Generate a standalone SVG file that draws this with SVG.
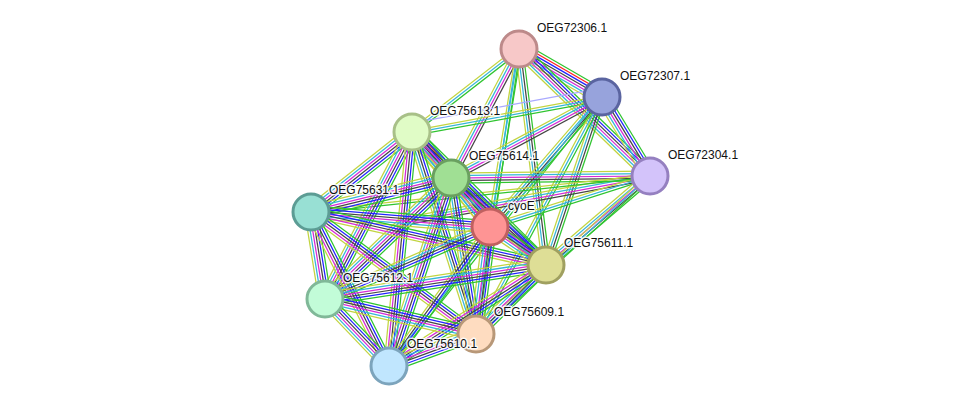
<svg xmlns="http://www.w3.org/2000/svg" width="975" height="411" viewBox="0 0 975 411">
<style>
.e path{fill:none;stroke-width:1}
.n{stroke:#2fc42f}.f{stroke:#ff1f1f}.c{stroke:#2222ff}.x{stroke:#454545}.m{stroke:#d62ad6}.d{stroke:#35b6d8}.t{stroke:#c2d440}.h{stroke:#a9a9ff}
.node circle{stroke-width:3}
.node text{font-family:"Liberation Sans",Arial,sans-serif;font-size:12px;fill:#111;stroke:#fff;stroke-width:3;stroke-opacity:0.85;paint-order:stroke;stroke-linejoin:round}
</style>
<rect width="975" height="411" fill="#fff"/>
<g id="edges" class="e">
<g transform="translate(519 49) rotate(30.04) scale(1 1.25)"><path class="n" d="M0-6H95.9"/><path class="f" d="M0-4H95.9"/><path class="c" d="M0-2H95.9"/><path class="x" d="M0 0H95.9"/><path class="m" d="M0 2H95.9"/><path class="d" d="M0 4H95.9"/><path class="t" d="M0 6H95.9"/></g>
<g transform="translate(519 49) rotate(44.11) scale(1 1.25)"><path class="n" d="M0-5H182.5"/><path class="c" d="M0-3H182.5"/><path class="x" d="M0-1H182.5"/><path class="m" d="M0 1H182.5"/><path class="d" d="M0 3H182.5"/><path class="t" d="M0 5H182.5"/></g>
<g transform="translate(602 97) rotate(58.72) scale(1 1.25)"><path class="n" d="M0-5H92.4"/><path class="c" d="M0-3H92.4"/><path class="x" d="M0-1H92.4"/><path class="m" d="M0 1H92.4"/><path class="d" d="M0 3H92.4"/><path class="t" d="M0 5H92.4"/></g>
<g transform="translate(519 49) rotate(142.19) scale(1 1.25)"><path class="n" d="M0-2H135.4"/><path class="d" d="M0 0H135.4"/><path class="t" d="M0 2H135.4"/></g>
<g transform="translate(519 49) rotate(117.79) scale(1 1.25)"><path class="x" d="M0-3H145.8"/><path class="m" d="M0-1H145.8"/><path class="d" d="M0 1H145.8"/><path class="t" d="M0 3H145.8"/></g>
<g transform="translate(519 49) rotate(99.25) scale(1 1.25)"><path class="n" d="M0-2H180.4"/><path class="d" d="M0 0H180.4"/><path class="t" d="M0 2H180.4"/></g>
<g transform="translate(519 49) rotate(82.87) scale(1 1.25)"><path class="n" d="M0-3H217.7"/><path class="x" d="M0-1H217.7"/><path class="d" d="M0 1H217.7"/><path class="t" d="M0 3H217.7"/></g>
<g transform="translate(519 49) rotate(98.58) scale(1 1.25)"><path class="n" d="M0-1H288.2"/><path class="d" d="M0 1H288.2"/></g>
<g transform="translate(602 97) rotate(169.56) scale(1 1.25)"><path class="n" d="M0-3H193.2"/><path class="d" d="M0-1H193.2"/><path class="t" d="M0 1H193.2"/><path class="h" d="M0 7H193.2"/></g>
<g transform="translate(602 97) rotate(151.79) scale(1 1.25)"><path class="x" d="M0-3H171.4"/><path class="m" d="M0-1H171.4"/><path class="d" d="M0 1H171.4"/><path class="t" d="M0 3H171.4"/></g>
<g transform="translate(602 97) rotate(130.74) scale(1 1.25)"><path class="n" d="M0-3H171.6"/><path class="x" d="M0-1H171.6"/><path class="d" d="M0 1H171.6"/><path class="t" d="M0 3H171.6"/></g>
<g transform="translate(602 97) rotate(108.43) scale(1 1.25)"><path class="n" d="M0-3H177.1"/><path class="x" d="M0-1H177.1"/><path class="d" d="M0 1H177.1"/><path class="t" d="M0 3H177.1"/></g>
<g transform="translate(602 97) rotate(118) scale(1 1.25)"><path class="n" d="M0-2H268.4"/><path class="d" d="M0 0H268.4"/><path class="t" d="M0 2H268.4"/></g>
<g transform="translate(602 97) rotate(128.37) scale(1 1.25)"><path class="n" d="M0-1H343.1"/><path class="d" d="M0 1H343.1"/></g>
<g transform="translate(650 176) rotate(169.53) scale(1 1.25)"><path class="x" d="M0-3H242"/><path class="m" d="M0-1H242"/><path class="d" d="M0 1H242"/><path class="t" d="M0 3H242"/></g>
<g transform="translate(650 176) rotate(179.42) scale(1 1.25)"><path class="n" d="M0-4H199"/><path class="x" d="M0-2H199"/><path class="m" d="M0 0H199"/><path class="d" d="M0 2H199"/><path class="t" d="M0 4H199"/></g>
<g transform="translate(650 176) rotate(162.32) scale(1 1.25)"><path class="n" d="M0-2H167.9"/><path class="d" d="M0 0H167.9"/><path class="t" d="M0 2H167.9"/></g>
<g transform="translate(650 176) rotate(139.45) scale(1 1.25)"><path class="n" d="M0-4H136.9"/><path class="x" d="M0-2H136.9"/><path class="m" d="M0 0H136.9"/><path class="d" d="M0 2H136.9"/><path class="t" d="M0 4H136.9"/></g>
<g transform="translate(650 176) rotate(137.76) scale(1 1.25)"><path class="n" d="M0-2H235"/><path class="d" d="M0 0H235"/><path class="t" d="M0 2H235"/></g>
<g transform="translate(650 176) rotate(173.94) scale(1 1.25)"><path class="n" d="M0-1H340.9"/><path class="t" d="M0 1H340.9"/></g>
<g transform="translate(412 132) rotate(49.7) scale(1 1.25)"><path class="n" d="M0-6H60.3"/><path class="f" d="M0-4H60.3"/><path class="c" d="M0-2H60.3"/><path class="x" d="M0 0H60.3"/><path class="m" d="M0 2H60.3"/><path class="d" d="M0 4H60.3"/><path class="t" d="M0 6H60.3"/></g>
<g transform="translate(412 132) rotate(141.62) scale(1 1.25)"><path class="n" d="M0-5H128.8"/><path class="c" d="M0-3H128.8"/><path class="x" d="M0-1H128.8"/><path class="m" d="M0 1H128.8"/><path class="d" d="M0 3H128.8"/><path class="t" d="M0 5H128.8"/></g>
<g transform="translate(412 132) rotate(50.61) scale(1 1.25)"><path class="n" d="M0-5H122.9"/><path class="c" d="M0-3H122.9"/><path class="x" d="M0-1H122.9"/><path class="m" d="M0 1H122.9"/><path class="d" d="M0 3H122.9"/><path class="t" d="M0 5H122.9"/></g>
<g transform="translate(412 132) rotate(44.79) scale(1 1.25)"><path class="n" d="M0-5H188.8"/><path class="c" d="M0-3H188.8"/><path class="x" d="M0-1H188.8"/><path class="m" d="M0 1H188.8"/><path class="d" d="M0 3H188.8"/><path class="t" d="M0 5H188.8"/></g>
<g transform="translate(412 132) rotate(117.52) scale(1 1.25)"><path class="n" d="M0-5H188.3"/><path class="c" d="M0-3H188.3"/><path class="x" d="M0-1H188.3"/><path class="m" d="M0 1H188.3"/><path class="d" d="M0 3H188.3"/><path class="t" d="M0 5H188.3"/></g>
<g transform="translate(412 132) rotate(72.42) scale(1 1.25)"><path class="n" d="M0-4H211.9"/><path class="c" d="M0-2H211.9"/><path class="x" d="M0 0H211.9"/><path class="d" d="M0 2H211.9"/><path class="t" d="M0 4H211.9"/></g>
<g transform="translate(412 132) rotate(95.61) scale(1 1.25)"><path class="n" d="M0-4H235.1"/><path class="c" d="M0-2H235.1"/><path class="x" d="M0 0H235.1"/><path class="m" d="M0 2H235.1"/><path class="t" d="M0 4H235.1"/></g>
<g transform="translate(451 178) rotate(166.35) scale(1 1.25)"><path class="n" d="M0-5H144.1"/><path class="c" d="M0-3H144.1"/><path class="x" d="M0-1H144.1"/><path class="m" d="M0 1H144.1"/><path class="d" d="M0 3H144.1"/><path class="t" d="M0 5H144.1"/></g>
<g transform="translate(451 178) rotate(51.48) scale(1 1.25)"><path class="n" d="M0-5H62.6"/><path class="c" d="M0-3H62.6"/><path class="x" d="M0-1H62.6"/><path class="m" d="M0 1H62.6"/><path class="d" d="M0 3H62.6"/><path class="t" d="M0 5H62.6"/></g>
<g transform="translate(451 178) rotate(42.48) scale(1 1.25)"><path class="n" d="M0-5H128.8"/><path class="c" d="M0-3H128.8"/><path class="x" d="M0-1H128.8"/><path class="m" d="M0 1H128.8"/><path class="d" d="M0 3H128.8"/><path class="t" d="M0 5H128.8"/></g>
<g transform="translate(451 178) rotate(136.16) scale(1 1.25)"><path class="n" d="M0-5H174.7"/><path class="c" d="M0-3H174.7"/><path class="x" d="M0-1H174.7"/><path class="m" d="M0 1H174.7"/><path class="d" d="M0 3H174.7"/><path class="t" d="M0 5H174.7"/></g>
<g transform="translate(451 178) rotate(80.9) scale(1 1.25)"><path class="n" d="M0-4H158"/><path class="c" d="M0-2H158"/><path class="x" d="M0 0H158"/><path class="d" d="M0 2H158"/><path class="t" d="M0 4H158"/></g>
<g transform="translate(451 178) rotate(108.25) scale(1 1.25)"><path class="n" d="M0-5H198"/><path class="c" d="M0-3H198"/><path class="x" d="M0-1H198"/><path class="m" d="M0 1H198"/><path class="d" d="M0 3H198"/><path class="t" d="M0 5H198"/></g>
<g transform="translate(311 212) rotate(4.79) scale(1 1.25)"><path class="n" d="M0-5H179.6"/><path class="c" d="M0-3H179.6"/><path class="x" d="M0-1H179.6"/><path class="m" d="M0 1H179.6"/><path class="d" d="M0 3H179.6"/><path class="t" d="M0 5H179.6"/></g>
<g transform="translate(311 212) rotate(12.71) scale(1 1.25)"><path class="n" d="M0-4H240.9"/><path class="c" d="M0-2H240.9"/><path class="x" d="M0 0H240.9"/><path class="m" d="M0 2H240.9"/><path class="t" d="M0 4H240.9"/></g>
<g transform="translate(311 212) rotate(80.86) scale(1 1.25)"><path class="n" d="M0-5H88.1"/><path class="c" d="M0-3H88.1"/><path class="x" d="M0-1H88.1"/><path class="m" d="M0 1H88.1"/><path class="d" d="M0 3H88.1"/><path class="t" d="M0 5H88.1"/></g>
<g transform="translate(311 212) rotate(36.48) scale(1 1.25)"><path class="n" d="M0-4H205.2"/><path class="c" d="M0-2H205.2"/><path class="x" d="M0 0H205.2"/><path class="m" d="M0 2H205.2"/><path class="t" d="M0 4H205.2"/></g>
<g transform="translate(311 212) rotate(63.14) scale(1 1.25)"><path class="n" d="M0-4H172.6"/><path class="c" d="M0-2H172.6"/><path class="x" d="M0 0H172.6"/><path class="m" d="M0 2H172.6"/><path class="t" d="M0 4H172.6"/></g>
<g transform="translate(490 227) rotate(34.16) scale(1 1.25)"><path class="n" d="M0-5H67.7"/><path class="c" d="M0-3H67.7"/><path class="x" d="M0-1H67.7"/><path class="m" d="M0 1H67.7"/><path class="d" d="M0 3H67.7"/><path class="t" d="M0 5H67.7"/></g>
<g transform="translate(490 227) rotate(156.43) scale(1 1.25)"><path class="n" d="M0-4H180"/><path class="c" d="M0-2H180"/><path class="x" d="M0 0H180"/><path class="d" d="M0 2H180"/><path class="t" d="M0 4H180"/></g>
<g transform="translate(490 227) rotate(97.45) scale(1 1.25)"><path class="n" d="M0-5H107.9"/><path class="c" d="M0-3H107.9"/><path class="x" d="M0-1H107.9"/><path class="m" d="M0 1H107.9"/><path class="d" d="M0 3H107.9"/><path class="t" d="M0 5H107.9"/></g>
<g transform="translate(490 227) rotate(126.01) scale(1 1.25)"><path class="n" d="M0-3H171.8"/><path class="c" d="M0-1H171.8"/><path class="x" d="M0 1H171.8"/><path class="t" d="M0 3H171.8"/></g>
<g transform="translate(546 265) rotate(171.25) scale(1 1.25)"><path class="n" d="M0-5H223.6"/><path class="c" d="M0-3H223.6"/><path class="x" d="M0-1H223.6"/><path class="m" d="M0 1H223.6"/><path class="d" d="M0 3H223.6"/><path class="t" d="M0 5H223.6"/></g>
<g transform="translate(546 265) rotate(135.41) scale(1 1.25)"><path class="n" d="M0-5H98.3"/><path class="c" d="M0-3H98.3"/><path class="x" d="M0-1H98.3"/><path class="m" d="M0 1H98.3"/><path class="d" d="M0 3H98.3"/><path class="t" d="M0 5H98.3"/></g>
<g transform="translate(546 265) rotate(147.25) scale(1 1.25)"><path class="n" d="M0-4H186.7"/><path class="c" d="M0-2H186.7"/><path class="x" d="M0 0H186.7"/><path class="m" d="M0 2H186.7"/><path class="t" d="M0 4H186.7"/></g>
<g transform="translate(325 299) rotate(13.05) scale(1 1.25)"><path class="n" d="M0-5H155"/><path class="c" d="M0-3H155"/><path class="x" d="M0-1H155"/><path class="m" d="M0 1H155"/><path class="d" d="M0 3H155"/><path class="t" d="M0 5H155"/></g>
<g transform="translate(325 299) rotate(46.31) scale(1 1.25)"><path class="n" d="M0-5H92.7"/><path class="c" d="M0-3H92.7"/><path class="x" d="M0-1H92.7"/><path class="m" d="M0 1H92.7"/><path class="d" d="M0 3H92.7"/><path class="t" d="M0 5H92.7"/></g>
<g transform="translate(476 334) rotate(159.81) scale(1 1.25)"><path class="n" d="M0-5H92.7"/><path class="c" d="M0-3H92.7"/><path class="x" d="M0-1H92.7"/><path class="m" d="M0 1H92.7"/><path class="d" d="M0 3H92.7"/><path class="t" d="M0 5H92.7"/></g>
</g>
<g id="OEG72306.1" class="node"><circle cx="519" cy="49" r="18" fill="#f7c8c8" stroke="#bd8a8a"/><text x="537" y="32">OEG72306.1</text></g>
<g id="OEG72307.1" class="node"><circle cx="602" cy="97" r="18" fill="#97a3dc" stroke="#5a64a0"/><text x="620" y="80">OEG72307.1</text></g>
<g id="OEG72304.1" class="node"><circle cx="650" cy="176" r="18" fill="#d3c3fa" stroke="#9580c0"/><text x="668" y="159">OEG72304.1</text></g>
<g id="OEG75613.1" class="node"><circle cx="412" cy="132" r="18" fill="#e0fcc6" stroke="#a8c088"/><text x="430" y="115">OEG75613.1</text></g>
<g id="OEG75614.1" class="node"><circle cx="451" cy="178" r="18" fill="#a0df94" stroke="#6aa060"/><text x="469" y="160">OEG75614.1</text></g>
<g id="OEG75631.1" class="node"><circle cx="311" cy="212" r="18" fill="#98e0d4" stroke="#5c9c94"/><text x="329" y="194">OEG75631.1</text></g>
<g id="cyoE" class="node"><circle cx="490" cy="227" r="18" fill="#fe9494" stroke="#c06060"/><text x="508" y="210">cyoE</text></g>
<g id="OEG75611.1" class="node"><circle cx="546" cy="265" r="18" fill="#dede96" stroke="#a0a060"/><text x="564" y="247">OEG75611.1</text></g>
<g id="OEG75612.1" class="node"><circle cx="325" cy="299" r="18" fill="#c2fcd8" stroke="#80b898"/><text x="343" y="282">OEG75612.1</text></g>
<g id="OEG75609.1" class="node"><circle cx="476" cy="334" r="18" fill="#fedcc0" stroke="#b89878"/><text x="494" y="316">OEG75609.1</text></g>
<g id="OEG75610.1" class="node"><circle cx="389" cy="366" r="18" fill="#c0e6fe" stroke="#7ca4bc"/><text x="407" y="348">OEG75610.1</text></g>
</svg>
